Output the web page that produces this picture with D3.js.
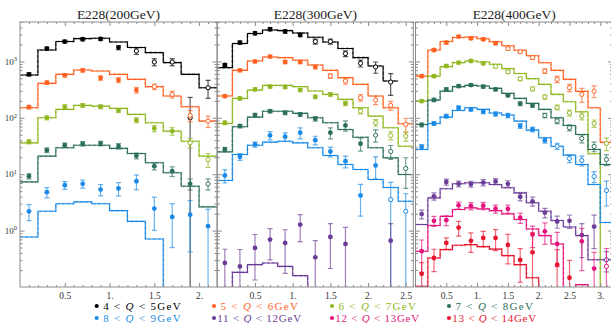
<!DOCTYPE html>
<html>
<head>
<meta charset="utf-8">
<script src="https://cdnjs.cloudflare.com/ajax/libs/d3/7.8.5/d3.min.js"></script>
<style>
  body { margin: 0; background: #fff; }
  text { font-family: "Liberation Serif", "DejaVu Serif", serif; }
</style>
</head>
<body>
<div id="chart"></div>
<script>
// qT bin centres (GeV), bins are 0.2 wide
const qT = [0.1, 0.3, 0.5, 0.7, 0.9, 1.1, 1.3, 1.5, 1.7, 1.9, 2.1, 2.3, 2.5, 2.7, 2.9, 3.1];
const binW = 0.2;

const titles = ['E228(200GeV)', 'E228(300GeV)', 'E228(400GeV)'];
const qLow = [4, 5, 6, 7, 8, 11, 12, 13];
const qHigh = [5, 6, 7, 8, 9, 12, 13, 14];
const legendKeys = ['q45', 'q56', 'q67', 'q78', 'q89', 'q1112', 'q1213', 'q1314'];

// E228 200 GeV
const e200_q45 = [590, 1690, 2250, 2470, 2500, 1760, 1530, 976, 976, 100, 342];
const e200_q45_err = [40, 110, 140, 150, 150, 150, 200, 140, 140, 130, 120];
const e200_q45_th = [573, 1595, 2250, 2540, 2570, 2210, 1760, 1433, 952, 590, 342];
const e200_q56 = [155, 420, 566, 695, 508, 468, 310, 357, 260, 110, 87.4];
const e200_q56_err = [12, 30, 40, 50, 45, 45, 35, 40, 35, 25, 20];
const e200_q56_th = [151, 408, 590, 703, 675, 590, 481, 357, 243, 157, 87.4];
const e200_q67 = [37.6, 100, 157, 166, 157, 135, 90.9, 64.8, 58, 36, 18.2];
const e200_q67_err = [3, 8, 12, 12, 12, 11, 9, 8, 9, 7, 5];
const e200_q67_th = [36, 100, 141, 166, 161, 147, 115, 81.8, 58, 38.5, 20.9];
const e200_q78 = [9.2, 26.7, 32.7, 34.7, 35.1, 31.4, 21.2, 13.9, 11.3, 6.75, 6.75];
const e200_q78_err = [1, 2.5, 3, 3, 3.2, 3.5, 2.5, 2, 2.2, 1.5, 1.5];
const e200_q78_th = [7.3, 20.9, 29.5, 32.7, 32.7, 28.7, 23.3, 16, 10.6, 6.1, 2.64];
const e200_q89 = [2.2, 4.8, 6.4, 6.75, 5.35, 5.6, 7.5, 2.46, 1.75, 1.92, 1.2];
const e200_q89_err = [0.7, 1.0, 1.0, 1.1, 1.2, 1.5, 2.2, 1.45, 1.25, 1.5, 1.2];
const e200_q89_th = [0.77, 2.2, 2.99, 3.23, 2.99, 2.26, 1.46, 0.71, 0.01, 0.01, 0.01];
const e200_open = [1.2, 1.4, 1.8, 2.0, 9];

// E228 300 GeV
const e300_q45 = [864, 2160, 3157, 3717, 3390, 2940, 2250, 2250, 1376, 926, 797, 430];
const e300_q45_err = [50, 150, 200, 250, 230, 200, 230, 230, 160, 130, 180, 180];
const e300_q45_th = [776, 2073, 3120, 3612, 3520, 3195, 2680, 2213, 1690, 1169, 830, 449];
const e300_q56 = [243, 695, 999, 1220, 976, 976, 797, 550, 449, 227, 206, 166, 76.3];
const e300_q56_err = [15, 45, 60, 70, 65, 65, 60, 50, 55, 30, 35, 30, 22];
const e300_q56_th = [243, 695, 1017, 1198, 1168, 1046, 864, 695, 515, 392, 243, 151, 78.6];
const e300_q67 = [81.8, 221, 319, 357, 352, 310, 236, 260, 180, 131, 81.8, 48.7, 47.2];
const e300_q67_err = [6, 15, 20, 22, 22, 20, 18, 20, 16, 14, 11, 8, 9];
const e300_q67_th = [79.5, 221, 310, 376, 376, 357, 298, 260, 212, 151, 107, 66.7, 31.4];
const e300_q78 = [27.5, 71.5, 112, 131, 123, 115, 96.5, 54.4, 73.2, 34.7, 49.2, 25.3, 12.6];
const e300_q78_err = [2.5, 5, 8, 9, 9, 9, 9, 12, 15, 9, 12, 7, 7];
const e300_q78_th = [24.9, 69.6, 103, 131, 131, 120, 100, 81.8, 62.2, 45.3, 29.5, 19.5, 9.88];
const e300_q89 = [9.48, 20.4, 33.7, 48.7, 46.2, 54.4, 40.1, 25.3, 17, 4.2, 14.3, 3.55, 2.2];
const e300_q89_err = [2.5, 2.8, 3.5, 8, 8, 12, 7, 5, 4, 2.4, 6, 3.6, 2.3];
const e300_q89_th = [7.73, 22.4, 32.7, 37, 38.5, 36, 29.5, 21.5, 14.9, 12.1, 8.05, 5.8, 3.31];
const e300_q1112 = [0.267, 0.232, 0.493, 0.692, 0.605, 1.28, 0.336, 0.773, 0.58, null, null, 0.664];
const e300_q1112_err = [0.2, 0.23, 0.36, 0.39, 0.43, 0.64, 0.33, 0.56, 0.56, null, null, 0.67];
const e300_q1112_th = [0.01, 0.182, 0.249, 0.267, 0.232, 0.159, 0.01];
const e300_open = [1.2, 1.4, 1.8, 2.0, 2.2, 9];

// E228 400 GeV
const e400_q56 = [548, 1595, 2160, 2750, 2570, 2470, 2100, 1690, 1488, 1169, 675, 481, 342, 260, 297];
const e400_q56_err = [35, 100, 130, 150, 140, 140, 120, 100, 90, 80, 60, 60, 50, 72, 70];
const e400_q56_th = [548, 1595, 2250, 2650, 2716, 2521, 2230, 1893, 1575, 1257, 946, 695, 481, 294, 151, 36.7];
const e400_q67 = [198, 548, 830, 952, 1017, 926, 819, 651, 491, 326, 234, 153, 122, 107, 79.5, 35.1];
const e400_q67_err = [12, 35, 50, 55, 60, 55, 50, 40, 35, 25, 20, 15, 15, 15, 12, 9];
const e400_q67_th = [198, 548, 809, 952, 1017, 975, 889, 745, 611, 495, 392, 260, 193, 128, 23.1, 0.01];
const e400_q78 = [74.7, 208, 319, 366, 381, 357, 319, 250, 178, 166, 110, 88.1, 66.7, 43, 31, 18.2];
const e400_q78_err = [6, 14, 20, 22, 22, 22, 20, 16, 13, 13, 10, 9, 8, 7, 6, 4];
const e400_q78_th = [76.3, 206, 297, 357, 376, 366, 333, 271, 221, 180, 141, 100, 73.2, 50.7, 27.5, 14.9];
const e400_q89 = [30.5, 79.5, 107, 151, 141, 128, 117, 110, 71.6, 62.2, 39.6, 31.4, 19, 17.5, 9.1, 5.13];
const e400_q89_err = [3, 6, 8, 10, 10, 10, 10, 10, 7, 6, 4, 4, 3, 3.5, 2, 2.4];
const e400_q89_th = [27.5, 79.5, 103, 135, 151, 141, 122, 112, 87.4, 60.4, 44.3, 31.4, 21.8, 14.9, 6.56, 1.39];
const e400_q1112 = [1.96, 4.06, 7.28, 6.76, 6.7, 7.12, 7.45, 6.76, 3.98, 3.31, 2.08, 1.45, 1.49, 0.832, 1.18, 0.305];
const e400_q1112_err = [0.35, 0.6, 0.9, 0.8, 0.8, 0.9, 0.9, 0.9, 0.6, 0.6, 0.4, 0.35, 0.4, 0.5, 0.7, 0.12];
const e400_q1112_th = [1.28, 3.81, 5.51, 6.76, 7.06, 7.06, 6.56, 5.74, 4.67, 3.11, 2.2, 1.51, 1.16, 0.815, 0.305, 0.305];
const e400_q1213 = [0.432, 1.49, 1.53, 2.81, 2.74, 2.76, 2.44, 2.43, 1.69, 0.849, 0.97, 0.58, null, 0.645, 0.212, 0.232];
const e400_q1213_err = [0.25, 0.3, 0.3, 0.4, 0.4, 0.4, 0.4, 0.4, 0.35, 0.35, 0.4, 0.35, null, 0.45, 0.2, 0.25];
const e400_q1213_th = [0.43, 1.23, 1.79, 2.36, 2.53, 2.43, 2.26, 1.98, 1.57, 1.07, 0.815, 0.58, 0.01, 0.11, 0.01];
const e400_q1314 = [0.171, 0.327, 0.605, 1.13, 0.66, 0.742, 0.742, 0.557, 0.301, 0.412, null, 0.249, 0.146];
const e400_q1314_err = [0.1, 0.14, 0.14, 0.33, 0.25, 0.23, 0.3, 0.3, 0.18, 0.5, null, 0.21, 0.15];
const e400_q1314_th = [0.103, 0.327, 0.46, 0.55, 0.564, 0.52, 0.47, 0.36, 0.249, 0.146, 0.01];
const e400_open = [1.4, 1.2, 2.0, 2.2, 3.0, 3.0, 9];

const colors = {
  q45: '#000000', q56: '#ff6222', q67: '#8fb820', q78: '#2c6e5d',
  q89: '#1a8ae6', q1112: '#6b3c97', q1213: '#e5147d', q1314: '#e8152f'
};

const S = (key, v, err, th, open) => ({ key, v, err, th, open });

const panels = [
  { title: titles[0], x0: 20, x1: 217, max: 2.2, labelsY: true,
    ticks: [0.5, 1, 1.5, 2], tickText: ['0.5', '1.', '1.5', '2.'],
    series: [
      S('q45', e200_q45, e200_q45_err, e200_q45_th, e200_open[0]),
      S('q56', e200_q56, e200_q56_err, e200_q56_th, e200_open[1]),
      S('q67', e200_q67, e200_q67_err, e200_q67_th, e200_open[2]),
      S('q78', e200_q78, e200_q78_err, e200_q78_th, e200_open[3]),
      S('q89', e200_q89, e200_q89_err, e200_q89_th, e200_open[4])
    ] },
  { title: titles[1], x0: 217.3, x1: 413.3, max: 2.6, labelsY: false,
    ticks: [0.5, 1, 1.5, 2, 2.5], tickText: ['0.5', '1.', '1.5', '2.', '2.5'],
    series: [
      S('q45', e300_q45, e300_q45_err, e300_q45_th, e300_open[0]),
      S('q56', e300_q56, e300_q56_err, e300_q56_th, e300_open[1]),
      S('q67', e300_q67, e300_q67_err, e300_q67_th, e300_open[2]),
      S('q78', e300_q78, e300_q78_err, e300_q78_th, e300_open[3]),
      S('q89', e300_q89, e300_q89_err, e300_q89_th, e300_open[4]),
      S('q1112', e300_q1112, e300_q1112_err, e300_q1112_th, e300_open[5])
    ] },
  { title: titles[2], x0: 415.5, x1: 612.6, max: 3.2, labelsY: false,
    ticks: [0.5, 1, 1.5, 2, 2.5, 3], tickText: ['0.5', '1.', '1.5', '2.', '2.5', '3.'],
    series: [
      S('q56', e400_q56, e400_q56_err, e400_q56_th, e400_open[0]),
      S('q67', e400_q67, e400_q67_err, e400_q67_th, e400_open[1]),
      S('q78', e400_q78, e400_q78_err, e400_q78_th, e400_open[2]),
      S('q89', e400_q89, e400_q89_err, e400_q89_th, e400_open[3]),
      S('q1112', e400_q1112, e400_q1112_err, e400_q1112_th, e400_open[4]),
      S('q1213', e400_q1213, e400_q1213_err, e400_q1213_th, e400_open[5]),
      S('q1314', e400_q1314, e400_q1314_err, e400_q1314_th, e400_open[6])
    ] }
];

const width = 611, height = 323;
const plotTop = 22, plotBottom = 287;
const frameColor = '#8c8c8c';

const svg = d3.select('#chart').append('svg')
  .attr('width', width).attr('height', height);

const y = d3.scaleLog().domain([0.1, 5000]).range([plotBottom, plotTop]);

// log minor ticks 0.2..0.9, 2..9, ...
const yMinor = [];
[0.1, 1, 10, 100, 1000].forEach(d => {
  for (let k = 2; k <= 9; k++) if (d * k <= 5000) yMinor.push(d * k);
});
const yMajor = [1, 10, 100, 1000];

panels.forEach((p, pi) => {
  const x = d3.scaleLinear().domain([0, p.max]).range([p.x0, p.x1]);
  const xMinor = d3.range(0, p.max + 1e-6, 0.1).filter(v => Math.abs(v * 2 - Math.round(v * 2)) > 1e-6);

  svg.append('clipPath').attr('id', 'clip' + pi)
    .append('rect')
    .attr('x', p.x0).attr('y', plotTop)
    .attr('width', p.x1 - p.x0).attr('height', plotBottom - plotTop);

  const plot = svg.append('g').attr('clip-path', `url(#clip${pi})`);

  const line = d3.line()
    .x(d => x(d[0]))
    .y(d => y(d[1]))
    .curve(d3.curveStepAfter);

  p.series.forEach(s => {
    const c = colors[s.key];
    const steps = s.th.map((v, i) => [i * binW, v]);
    steps.push([s.th.length * binW, s.th[s.th.length - 1]]);

    plot.append('path')
      .attr('d', line(steps))
      .attr('fill', 'none')
      .attr('stroke', c)
      .attr('stroke-opacity', 0.35)
      .attr('stroke-width', 2)
      .attr('stroke-dasharray', '3,2');
    plot.append('path')
      .attr('d', line(steps))
      .attr('fill', 'none')
      .attr('stroke', c)
      .attr('stroke-width', 1.1);

    const pts = s.v.map((v, i) => ({ q: qT[i], v, e: s.err[i] })).filter(d => d.v != null);

    const eb = plot.append('g')
      .attr('stroke', c)
      .attr('stroke-opacity', 0.65)
      .attr('stroke-width', 1.2);
    pts.forEach(d => {
      const px = x(d.q);
      const y1 = y(d.v + d.e);
      const lo = d.v - d.e;
      const y0 = lo > 0.001 ? y(lo) : plotBottom + 10;
      eb.append('line').attr('x1', px).attr('x2', px).attr('y1', y0).attr('y2', y1);
      eb.append('line').attr('x1', px - 2.6).attr('x2', px + 2.6).attr('y1', y1).attr('y2', y1);
      eb.append('line').attr('x1', px - 2.6).attr('x2', px + 2.6).attr('y1', y0).attr('y2', y0);
    });

    plot.append('g').selectAll('circle')
      .data(pts)
      .join('circle')
      .attr('cx', d => x(d.q))
      .attr('cy', d => y(d.v))
      .attr('r', d => d.q > s.open ? 2.1 : 2.4)
      .attr('fill', d => d.q > s.open ? '#fff' : c)
      .attr('stroke', c)
      .attr('stroke-width', d => d.q > s.open ? 1 : 0);
  });

  // frame
  svg.append('rect')
    .attr('x', p.x0).attr('y', plotTop)
    .attr('width', p.x1 - p.x0).attr('height', plotBottom - plotTop)
    .attr('fill', 'none')
    .attr('stroke', frameColor)
    .attr('stroke-width', 1);

  const styleAxis = g => {
    g.select('.domain').remove();
    g.selectAll('line').attr('stroke', frameColor);
  };

  // x axes (bottom with labels, top mirrored)
  svg.append('g')
    .attr('transform', `translate(0,${plotBottom})`)
    .call(d3.axisBottom(x).tickValues(p.ticks)
      .tickFormat((d, i) => p.tickText[i]).tickSize(-4).tickPadding(5))
    .call(styleAxis)
    .call(g => g.selectAll('text').attr('font-size', 9.5).attr('fill', '#333')
      .attr('font-family', '"Liberation Serif", serif'));
  svg.append('g')
    .attr('transform', `translate(0,${plotBottom})`)
    .call(d3.axisBottom(x).tickValues(xMinor).tickFormat('').tickSize(-2))
    .call(styleAxis);
  svg.append('g')
    .attr('transform', `translate(0,${plotTop})`)
    .call(d3.axisTop(x).tickValues(p.ticks).tickFormat('').tickSize(-4))
    .call(styleAxis);
  svg.append('g')
    .attr('transform', `translate(0,${plotTop})`)
    .call(d3.axisTop(x).tickValues(xMinor).tickFormat('').tickSize(-2))
    .call(styleAxis);

  // y axes (left and right, ticks inward)
  [[d3.axisLeft, p.x0], [d3.axisRight, p.x1]].forEach(([ax, px]) => {
    svg.append('g')
      .attr('transform', `translate(${px},0)`)
      .call(ax(y).tickValues(yMajor).tickFormat('').tickSize(-4.5))
      .call(styleAxis);
    svg.append('g')
      .attr('transform', `translate(${px},0)`)
      .call(ax(y).tickValues(yMinor).tickFormat('').tickSize(-2.5))
      .call(styleAxis);
  });

  if (p.labelsY) {
    yMajor.forEach(v => {
      const t = svg.append('text')
        .attr('x', 17).attr('y', y(v) + 3.2)
        .attr('text-anchor', 'end')
        .attr('font-size', 9)
        .attr('fill', '#333');
      t.append('tspan').text('10');
      t.append('tspan').attr('dy', -3.5).attr('font-size', 6.5).text(Math.round(Math.log10(v)));
    });
  }

  svg.append('text')
    .attr('x', (p.x0 + Math.min(p.x1, width)) / 2 + (pi === 2 ? 1 : 0))
    .attr('y', 18.5)
    .attr('text-anchor', 'middle')
    .attr('font-size', 13.5)
    .attr('fill', '#222')
    .text(p.title);
});

// legend
const bulletX = [96.7, 214, 332, 449];
const rowY = [306, 318];
legendKeys.forEach((k, i) => {
  const col = i % 4, row = Math.floor(i / 4);
  const c = colors[k];
  const bx = bulletX[col];
  svg.append('circle')
    .attr('cx', bx).attr('cy', rowY[row])
    .attr('r', 2.1).attr('fill', c);
  const twoDigit = qLow[i] >= 10;
  const t = svg.append('text')
    .attr('x', bx + (twoDigit ? 3.2 : 6.5))
    .attr('y', rowY[row] + 3.6)
    .attr('font-size', 11)
    .attr('fill', c)
    .attr('textLength', twoDigit ? 84 : 77.5)
    .attr('lengthAdjust', 'spacing');
  t.append('tspan').text(`${qLow[i]} < `);
  t.append('tspan').attr('font-style', 'italic').text('Q');
  t.append('tspan').text(qHigh[i] < 10 ? ` <  ${qHigh[i]}GeV` : ` < ${qHigh[i]}GeV`);
});
</script>
</body>
</html>
